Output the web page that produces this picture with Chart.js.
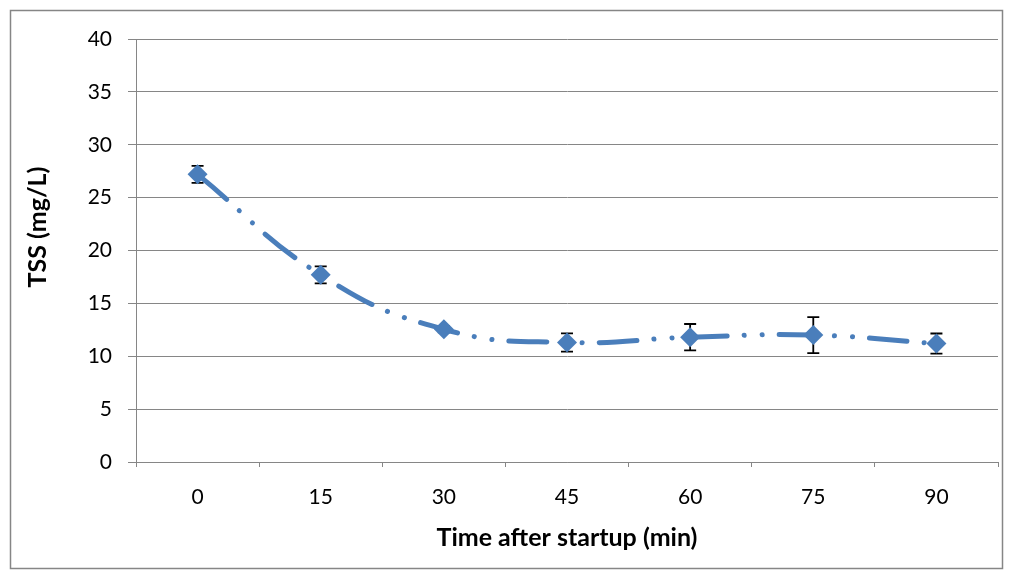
<!DOCTYPE html>
<html>
<head>
<meta charset="utf-8">
<script src="https://cdn.jsdelivr.net/npm/chart.js@4.4.1/dist/chart.umd.min.js"></script>
<style>
  html, body { margin: 0; padding: 0; background: #fff; }
  #wrap { width: 1013px; height: 579px; position: relative; }
</style>
</head>
<body>
<div id="wrap"><canvas id="grafico" width="1013" height="579"></canvas></div>
<script>
// Dados
const tempos = ["0", "15", "30", "45", "60", "75", "90"];
const tss = [27.2, 17.7, 12.55, 11.3, 11.8, 12.0, 11.2];
const erros = [0.8, 0.8, 0.3, 0.87, 1.25, 1.7, 0.95];
const ticksY = [0, 5, 10, 15, 20, 25, 30, 35, 40];
const tituloY = "TSS (mg/L)";

const azul = "#4A7EBB";
const cinza = "#868686";
const fonte = "Lato, 'Open Sans', sans-serif";

// moldura externa + título do eixo Y (um pouco acima do centro, como no original)
const moldura = {
  id: "moldura",
  beforeDraw(chart) {
    const ctx = chart.ctx;
    ctx.save();
    ctx.fillStyle = "#fff";
    ctx.fillRect(0, 0, chart.width, chart.height);
    ctx.strokeStyle = cinza;
    ctx.lineWidth = 1.5;
    ctx.strokeRect(10.5, 10.5, chart.width - 21, chart.height - 21);
    ctx.restore();
  },
  afterDraw(chart) {
    const ctx = chart.ctx;
    ctx.save();
    ctx.translate(38, 227);
    ctx.rotate(-Math.PI / 2);
    ctx.fillStyle = "#000";
    ctx.font = "bold 25px " + fonte;
    ctx.textAlign = "center";
    ctx.textBaseline = "middle";
    ctx.fillText(tituloY, 0, 0);
    ctx.restore();
  }
};

// barras de erro (desenhadas antes dos marcadores)
const barrasErro = {
  id: "barrasErro",
  beforeDatasetsDraw(chart) {
    const ctx = chart.ctx;
    const x = chart.scales.x;
    const y = chart.scales.y;
    ctx.save();
    ctx.strokeStyle = "#000";
    ctx.lineWidth = 1.8;
    tss.forEach((v, i) => {
      const px = x.getPixelForValue(i);
      const y1 = y.getPixelForValue(v + erros[i]);
      const y2 = y.getPixelForValue(v - erros[i]);
      ctx.beginPath();
      ctx.moveTo(px, y1); ctx.lineTo(px, y2);
      ctx.moveTo(px - 6, y1); ctx.lineTo(px + 6, y1);
      ctx.moveTo(px - 6, y2); ctx.lineTo(px + 6, y2);
      ctx.stroke();
    });
    ctx.restore();
  }
};

new Chart(document.getElementById("grafico"), {
  type: "line",
  data: {
    labels: tempos,
    datasets: [{
      data: tss,
      borderColor: azul,
      backgroundColor: azul,
      borderWidth: 5,
      borderCapStyle: "round",
      borderDash: [38, 17, 0.1, 18, 0.1, 17],
      tension: 0.45,
      pointStyle: "rectRot",
      pointRadius: 10,
      pointBorderWidth: 0,
      pointBackgroundColor: azul
    }]
  },
  options: {
    responsive: false,
    animation: false,
    layout: { padding: { left: 0, top: 39, right: 15, bottom: 0 } },
    plugins: { legend: { display: false }, tooltip: { enabled: false } },
    scales: {
      x: {
        offset: true,
        grid: { offset: true, drawOnChartArea: false, color: cinza, tickLength: 5 },
        border: { color: cinza },
        ticks: { color: "#000", font: { family: fonte, size: 21 }, padding: 18 },
        title: {
          display: true, text: "Time after startup (min)", color: "#000",
          font: { family: fonte, size: 25, weight: "bold" }, padding: { top: 4, bottom: 26 }
        },
        afterFit(s) { s.height = 117; }
      },
      y: {
        min: 0, max: 40,
        afterBuildTicks(s) { s.ticks = ticksY.map(v => ({ value: v })); },
        grid: { color: cinza, tickLength: 8 },
        border: { color: cinza },
        ticks: { color: "#000", font: { family: fonte, size: 21 }, padding: 16 },
        afterFit(s) { s.width = 136; }
      }
    }
  },
  plugins: [moldura, barrasErro]
});
</script>
</body>
</html>
